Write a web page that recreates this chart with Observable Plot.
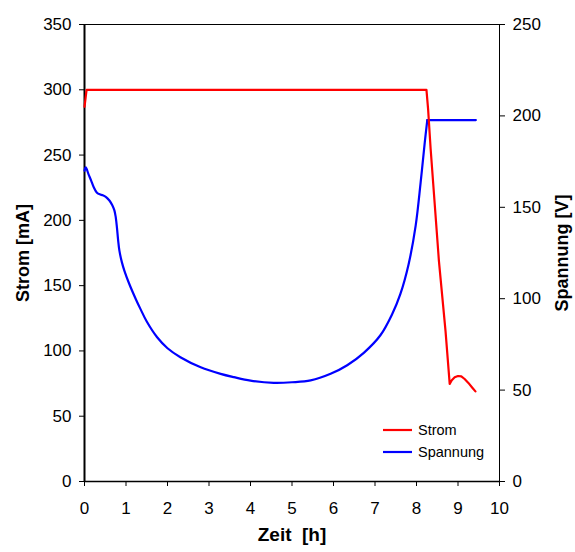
<!DOCTYPE html>
<html>
<head>
<meta charset="utf-8">
<script src="https://cdn.jsdelivr.net/npm/d3@7"></script>
<script src="https://cdn.jsdelivr.net/npm/@observablehq/plot@0.6"></script>
<style>
  html, body { margin: 0; padding: 0; background: #fff; }
  #chart { position: relative; width: 575px; height: 552px; }
</style>
</head>
<body>
<div id="chart"></div>
<script>
// Strom [mA] (left axis)
const stromT = [0, 0.05, 8.24, 8.28, 8.34, 8.54, 8.70, 8.80, 8.85, 8.92, 9.0, 9.08, 9.16, 9.25, 9.34, 9.42];
const stromV = [287, 300, 300, 285, 255, 169, 115, 74.8, 77.5, 79.8, 80.8, 80.5, 78.5, 75.5, 72, 69];

// Spannung [V] (right axis)
const spannT = [0, 0.03, 0.1, 0.16, 0.22, 0.3, 0.38, 0.44, 0.52, 0.6, 0.67, 0.72, 0.75, 0.78, 0.81, 0.84, 0.9, 0.96, 1.07, 1.24, 1.35, 1.5, 1.75, 2.0, 2.31, 2.8, 3.28, 3.6, 4.0, 4.56, 5.0, 5.45, 5.93, 6.33, 6.73, 7.13, 7.41, 7.61, 7.81, 7.98, 8.10, 8.20, 8.26, 9.43];
const spannV = [170, 171.8, 167.9, 164.6, 161.1, 158, 157, 156.6, 155.6, 153.7, 151.1, 148.3, 145, 139.3, 132.1, 126.4, 120, 115.4, 108.6, 99.6, 94.3, 87.5, 78.9, 72.9, 68, 62.5, 58.9, 57.1, 55.2, 54, 54.3, 55.3, 58.9, 63.6, 70.4, 80, 91.4, 102.5, 118.9, 140, 163.6, 185.7, 197.7, 197.7];

const xTicks = [0, 1, 2, 3, 4, 5, 6, 7, 8, 9, 10];
const yTicks = [0, 50, 100, 150, 200, 250, 300, 350];
const vTicks = [0, 50, 100, 150, 200, 250];

const seriesNames = ["Strom", "Spannung"];
const seriesColors = ["#ff0000", "#0000ff"];

const ratio = 350 / 250; // right axis 0..250 V maps onto left 0..350 mA
const plateauStart = 8.26;

const stromData = stromT.map((t, i) => ({t, v: stromV[i]}));
const spannData = spannT.map((t, i) => ({t, v: spannV[i]}));

const font = "'Liberation Sans', Arial, sans-serif";

const chart = Plot.plot({
  width: 575,
  height: 552,
  marginLeft: 84,
  marginRight: 76,
  marginTop: 24,
  marginBottom: 71,
  style: {fontFamily: font, fontSize: "17px", color: "black", background: "white"},
  x: {domain: [0, 10]},
  y: {domain: [0, 350]},
  marks: [
    Plot.frame({stroke: "black", strokeWidth: 1}),
    Plot.ruleX([0], {stroke: "black", strokeWidth: 2}),
    Plot.ruleY([0], {stroke: "black", strokeWidth: 1.5}),
    Plot.axisX({ticks: xTicks, tickSize: 5, tickPadding: 15, label: null, fontSize: 17}),
    Plot.axisY({ticks: yTicks, anchor: "left", tickSize: 5, tickPadding: 8, label: null, fontSize: 17}),
    Plot.axisY({anchor: "right", ticks: vTicks.map(v => v * ratio), tickFormat: d => String(Math.round(d / ratio)), tickSize: 5, tickPadding: 8, label: null, fontSize: 17}),
    Plot.line(spannData, {filter: d => d.t <= plateauStart, x: "t", y: d => d.v * ratio, stroke: seriesColors[1], strokeWidth: 2.2, curve: "catmull-rom", strokeLinejoin: "round"}),
    Plot.line(spannData, {filter: d => d.t >= plateauStart, x: "t", y: d => d.v * ratio, stroke: seriesColors[1], strokeWidth: 2.2, curve: "linear"}),
    Plot.line(stromData, {x: "t", y: "v", stroke: seriesColors[0], strokeWidth: 2.2, curve: "linear", strokeLinejoin: "round"}),
    Plot.text(["Zeit  [h]"], {frameAnchor: "bottom", dy: 59, fontWeight: "bold", fontSize: 19, fill: "black", textAnchor: "middle"}),
    Plot.text(["Strom [mA]"], {frameAnchor: "left", dx: -61, rotate: -90, fontWeight: "bold", fontSize: 18, fill: "black", textAnchor: "middle"}),
    Plot.text(["Spannung [V]"], {frameAnchor: "right", dx: 63, rotate: -90, fontWeight: "bold", fontSize: 18, fill: "black", textAnchor: "middle"})
  ]
});

document.getElementById("chart").appendChild(chart);

// Legend inside plot area
const svg = d3.select(chart);
const lg = svg.append("g").attr("font-family", font).attr("font-size", 14.5).attr("text-anchor", "start");
seriesNames.forEach((name, i) => {
  const y = 430 + i * 22;
  lg.append("line").attr("x1", 383).attr("x2", 412).attr("y1", y).attr("y2", y)
    .attr("stroke", seriesColors[i]).attr("stroke-width", 2.2);
  lg.append("text").attr("x", 418).attr("y", y).attr("dy", "0.35em").attr("fill", "black").text(name);
});
</script>
</body>
</html>
